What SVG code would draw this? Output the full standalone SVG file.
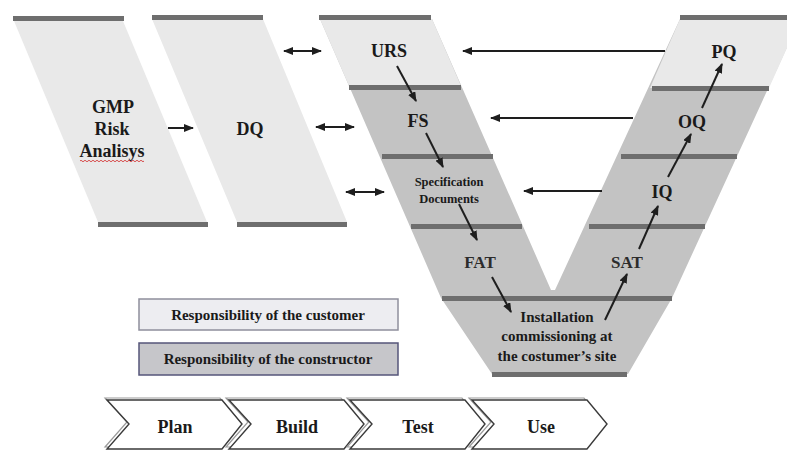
<svg xmlns="http://www.w3.org/2000/svg" width="787" height="450" viewBox="0 0 787 450">
<style>
.light{fill:#e9e9e9}
.dark{fill:#c3c3c3}
.bar{fill:#6e6e6e}
.t{font-family:"Liberation Serif","Times New Roman",serif;font-weight:bold;fill:#1a1a1a;text-anchor:middle}
.big{font-size:18px}
.mid{font-size:17px;fill:#2c2c2c}
.sm{font-size:12.5px}
.ins{font-size:15px}
.leg{font-size:15px}
.ar{stroke:#1e1e1e;stroke-width:2;fill:none}
.chev{fill:#fff;stroke:#3a3a3a;stroke-width:1.4}
.chevs{fill:none;stroke:#9a9a9a;stroke-width:1.2}
</style>
<defs>
<marker id="ah" markerUnits="userSpaceOnUse" markerWidth="10" markerHeight="8" refX="9" refY="4" orient="auto-start-reverse">
<path d="M0,0 L10,4 L0,8 z" fill="#1e1e1e"/>
</marker>
</defs>

<g id="gmp">
<polygon class="light" points="14,21 123,21 207,222 98,222"/>
<rect class="bar" x="13" y="16" width="111" height="5"/>
<rect class="bar" x="98" y="222" width="110" height="5"/>
<text class="t big" x="113" y="113">GMP</text>
<text class="t big" x="112" y="135">Risk</text>
<text class="t big" x="112" y="157">Analisys</text>
<path d="M80,161 q1,-1.5 2,0 t2,0 t2,0 t2,0 t2,0 t2,0 t2,0 t2,0 t2,0 t2,0 t2,0 t2,0 t2,0 t2,0 t2,0 t2,0 t2,0 t2,0 t2,0 t2,0 t2,0 t2,0 t2,0 t2,0 t2,0 t2,0 t2,0 t2,0 t2,0 t2,0 t2,0 t2,0" fill="none" stroke="#d43c3c" stroke-width="0.9"/>
</g>

<g id="dq">
<polygon class="light" points="152,19 263,19 347,222 237,222"/>
<rect class="bar" x="152" y="15" width="111" height="5"/>
<rect class="bar" x="237" y="222" width="110" height="5"/>
<text class="t big" x="250" y="135">DQ</text>
</g>

<g id="v-shape">
<polygon class="dark" points="320,19 441,298 492,374 628,374 672,298 800,19 680,19 555,290 551,290 432,19"/>
<polygon class="light" points="320,19 432,19 461.5,87 349.5,87"/>
<polygon class="light" points="680,19 800,19 769,88 650,88"/>
<rect class="bar" x="319" y="15" width="112" height="5"/>
<rect class="bar" x="349" y="85" width="112" height="5"/>
<rect class="bar" x="382" y="154" width="111" height="5"/>
<rect class="bar" x="411" y="224" width="111" height="5"/>
<rect class="bar" x="680" y="15" width="107" height="5"/>
<rect class="bar" x="652" y="86" width="117" height="5"/>
<rect class="bar" x="621" y="154" width="116" height="5"/>
<rect class="bar" x="589" y="224" width="116" height="5"/>
<rect class="bar" x="442" y="296" width="230" height="5"/>
<rect class="bar" x="492" y="372" width="135" height="5"/>
</g>

<g id="urs"><text class="t big" x="389" y="57">URS</text></g>
<g id="fs"><text class="t big" x="418" y="127">FS</text></g>
<g id="spec"><text class="t sm" x="449" y="186">Specification</text><text class="t sm" x="449" y="203">Documents</text></g>
<g id="fat"><text class="t mid" x="480" y="268">FAT</text></g>
<g id="install">
<text class="t ins" x="557" y="322">Installation</text>
<text class="t ins" x="557" y="341">commissioning at</text>
<text class="t ins" x="557" y="361">the costumer’s site</text>
</g>
<g id="sat"><text class="t mid" x="627" y="268">SAT</text></g>
<g id="iq"><text class="t big" x="662" y="198">IQ</text></g>
<g id="oq"><text class="t big" x="692" y="128">OQ</text></g>
<g id="pq"><text class="t big" x="724" y="58">PQ</text></g>

<g id="legend-customer">
<rect x="139" y="299" width="259" height="31" fill="#ededf1" stroke="#8f8f9c" stroke-width="1.5"/>
<text class="t leg" x="268" y="320">Responsibility of the customer</text>
</g>
<g id="legend-constructor">
<rect x="139" y="343" width="259" height="32" fill="#c6c6ca" stroke="#55557a" stroke-width="1.5"/>
<text class="t leg" x="268" y="364">Responsibility of the constructor</text>
</g>

<g id="phase-plan">
<polygon class="chevs" points="105,398 220,398 240,422 220,447 105,447 127,422"/>
<polygon class="chev" points="107,400 222,400 242,424 222,449 107,449 129,424"/>
<text class="t big" x="175" y="433">Plan</text>
</g>
<g id="phase-build">
<polygon class="chevs" points="226,398 341,398 361,422 341,447 226,447 248,422"/>
<polygon class="chev" points="229,400 344,400 364,424 344,449 229,449 251,424"/>
<text class="t big" x="297" y="433">Build</text>
</g>
<g id="phase-test">
<polygon class="chevs" points="347,398 462,398 482,422 462,447 347,447 369,422"/>
<polygon class="chev" points="350,400 465,400 485,424 465,449 350,449 372,424"/>
<text class="t big" x="418" y="433">Test</text>
</g>
<g id="phase-use">
<polygon class="chevs" points="469,398 584,398 604,422 584,447 469,447 491,422"/>
<polygon class="chev" points="472,400 587,400 607,424 587,449 472,449 494,424"/>
<text class="t big" x="541" y="433">Use</text>
</g>

<g id="connectors">
<line class="ar" x1="168" y1="128" x2="193" y2="128" marker-end="url(#ah)"/>
<line class="ar" x1="284" y1="51" x2="321" y2="51" marker-start="url(#ah)" marker-end="url(#ah)"/>
<line class="ar" x1="316" y1="127" x2="354" y2="127" marker-start="url(#ah)" marker-end="url(#ah)"/>
<line class="ar" x1="346" y1="192" x2="384" y2="192" marker-start="url(#ah)" marker-end="url(#ah)"/>
<line class="ar" x1="397" y1="66" x2="416" y2="101" marker-end="url(#ah)"/>
<line class="ar" x1="426" y1="133" x2="443" y2="167" marker-end="url(#ah)"/>
<line class="ar" x1="459" y1="204" x2="477" y2="240" marker-end="url(#ah)"/>
<line class="ar" x1="492" y1="277" x2="511" y2="312" marker-end="url(#ah)"/>
<line class="ar" x1="605" y1="320" x2="627" y2="274" marker-end="url(#ah)"/>
<line class="ar" x1="639" y1="249" x2="658" y2="206" marker-end="url(#ah)"/>
<line class="ar" x1="668" y1="177" x2="691" y2="134" marker-end="url(#ah)"/>
<line class="ar" x1="702" y1="108" x2="722" y2="64" marker-end="url(#ah)"/>
<line class="ar" x1="665" y1="51" x2="463" y2="51" marker-end="url(#ah)"/>
<line class="ar" x1="633" y1="118" x2="491" y2="118" marker-end="url(#ah)"/>
<line class="ar" x1="602" y1="191" x2="524" y2="191" marker-end="url(#ah)"/>
</g>
</svg>
